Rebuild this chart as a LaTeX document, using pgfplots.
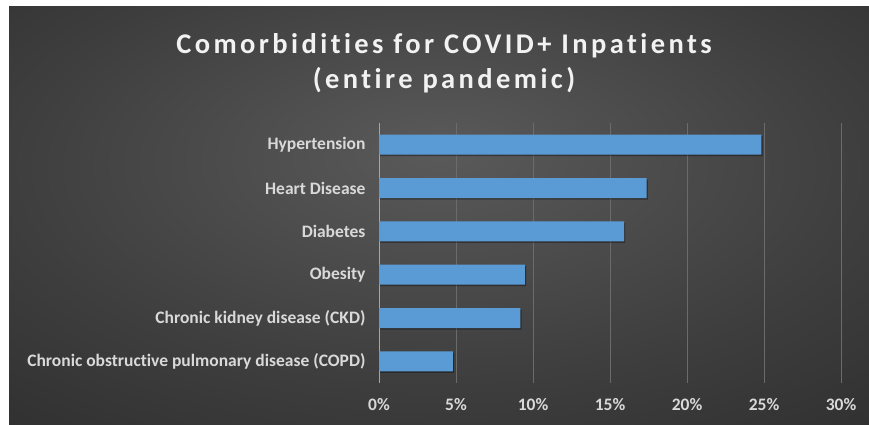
\documentclass[border=0pt]{standalone}
\usepackage{pgfplots}
\pgfplotsset{compat=1.18}
\usepackage{fontspec}
\setmainfont[Ligatures=NoCommon]{Carlito}
\newfontfamily\titlefont[LetterSpace=12,Ligatures=NoCommon]{Carlito}
\definecolor{barblue}{HTML}{5B9BD5}
\definecolor{labgray}{HTML}{D9D9D9}
\definecolor{bgA}{HTML}{5A5A5A}
\definecolor{bgB}{HTML}{3E3E3E}
\definecolor{bgC}{HTML}{262626}
\pgfdeclareradialshading{bgshade}{\pgfpoint{0bp}{8bp}}{color(0bp)=(bgA); color(25bp)=(bgB); color(50bp)=(bgC); color(80bp)=(bgC)}
\begin{document}
\begin{tikzpicture}[x=1pt,y=1pt]
\fill[white] (0pt,0pt) rectangle (869pt,425pt);
\shade[shading=bgshade] (9pt,0pt) rectangle (869pt,418pt);
\node[font=\titlefont\bfseries\fontsize{28.5}{35}\selectfont, text=white!95!black, align=center] at (444pt,362pt) {Comorbidities for COVID+ Inpatients\\(entire pandemic)};
\begin{axis}[at={(379pt,42pt)}, anchor=south west, scale only axis,
  width=462pt, height=260pt,
  xmin=0, xmax=30, ymin=-0.5, ymax=5.5,
  xbar, bar width=20pt,
  ytick={0,...,5},
  yticklabels={Chronic obstructive pulmonary disease (COPD),Chronic kidney disease (CKD),Obesity,Diabetes,Heart Disease,Hypertension},
  xtick={0,5,...,30},
  xticklabels={0\%,5\%,10\%,15\%,20\%,25\%,30\%},
  xmajorgrids, major grid style={color=black!58, line width=0.8pt},
  axis lines*=left,
  x axis line style={draw=none},
  y axis line style={draw=black!35, line width=1pt},
  major tick length=0pt,
  tick label style={font=\bfseries\fontsize{17.5}{19}\selectfont, text=labgray},
  xticklabel shift=12pt,
  yticklabel shift=10pt,
]
\addplot[fill=barblue, draw=none, preaction={fill=black, fill opacity=0.35, transform canvas={xshift=1.2pt,yshift=-1.5pt}}] coordinates {(4.79,0) (9.18,1) (9.48,2) (15.91,3) (17.38,4) (24.83,5)};
\end{axis}
\end{tikzpicture}
\end{document}
